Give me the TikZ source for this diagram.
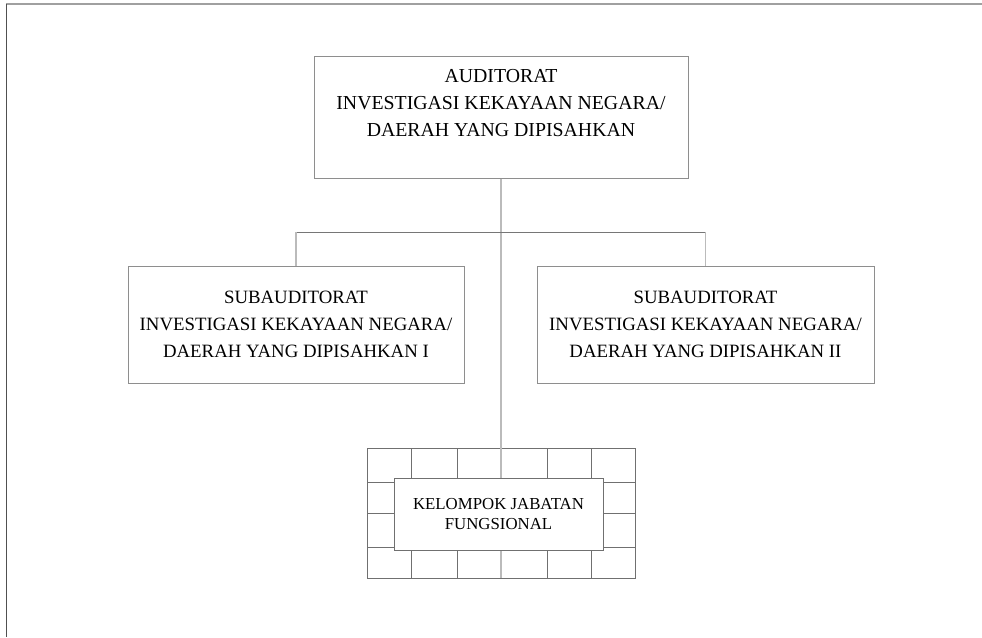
\documentclass[tikz,border=0pt]{standalone}
\usepackage{fontspec}
\setmainfont{Liberation Serif}
\definecolor{boxgray}{HTML}{8E8E8E}
\definecolor{gridgray}{HTML}{707070}
\definecolor{conngray}{HTML}{BBBBBB}
\definecolor{hconn}{HTML}{767676}
\definecolor{framegray}{HTML}{A0A0A0}
\definecolor{framedark}{HTML}{505050}
\begin{document}
\begin{tikzpicture}[x=1pt,y=-1pt,
  orgbox/.style={draw=boxgray,line width=1pt,fill=white,rectangle,inner sep=0pt},
  bigtext/.style={align=center,inner sep=0pt,font=\fontsize{19.8}{27}\selectfont},
  subtext/.style={align=center,inner sep=0pt,font=\fontsize{18.8}{27}\selectfont},
  gridtext/.style={align=center,inner sep=0pt,font=\fontsize{16.8}{20}\selectfont},
  vconn/.style={draw=conngray,line width=1.5pt},
  hline/.style={draw=hconn,line width=1pt},
  gridline/.style={draw=gridgray,line width=0.9pt}]
\useasboundingbox (0,0) rectangle (982,637);
% frame lines
\draw[framegray,line width=1.6pt] (6,4) -- (982,4);
\draw[framedark,line width=1.3pt] (6.5,4) -- (6.5,637);

% top box
\node[orgbox,minimum width=374pt,minimum height=122pt] (top) at (501,117) {};
\node[bigtext] (toptext) at (501,103) {AUDITORAT\\INVESTIGASI KEKAYAAN NEGARA/\\DAERAH YANG DIPISAHKAN};

% sub boxes
\node[orgbox,minimum width=336pt,minimum height=117pt,subtext] (left) at (296,324.5) {SUBAUDITORAT\\INVESTIGASI KEKAYAAN NEGARA/\\DAERAH YANG DIPISAHKAN I};
\node[orgbox,minimum width=337pt,minimum height=117pt,subtext] (right) at (705.5,324.5) {SUBAUDITORAT\\INVESTIGASI KEKAYAAN NEGARA/\\DAERAH YANG DIPISAHKAN II};

% grid frame
\coordinate (gtl) at (367,448);
\coordinate (gbr) at (635,578);
\coordinate (gbot) at (501,578);
\foreach \x in {411.5,457,547,591}{
  \draw[gridline] (\x,448) -- (\x,578);
}
\foreach \y in {482.5,513,547}{
  \draw[gridline] (367,\y) -- (635,\y);
}
\draw[gridline] (gtl) rectangle (gbr);

% connectors
\coordinate (hl) at (left.north |- 0,232);
\coordinate (hr) at (right.north |- 0,232);
\draw[vconn] (top.south) -- (gbot);
\draw[hline] (hl) -- (hr);
\draw[vconn] (hl) -- (left.north);
\draw[vconn] (hr) -- (right.north);

% inner box
\node[orgbox,draw=gridgray,minimum width=209pt,minimum height=72pt,gridtext] (kjf) at (498.5,514) {KELOMPOK JABATAN\\FUNGSIONAL};
\end{tikzpicture}
\end{document}
